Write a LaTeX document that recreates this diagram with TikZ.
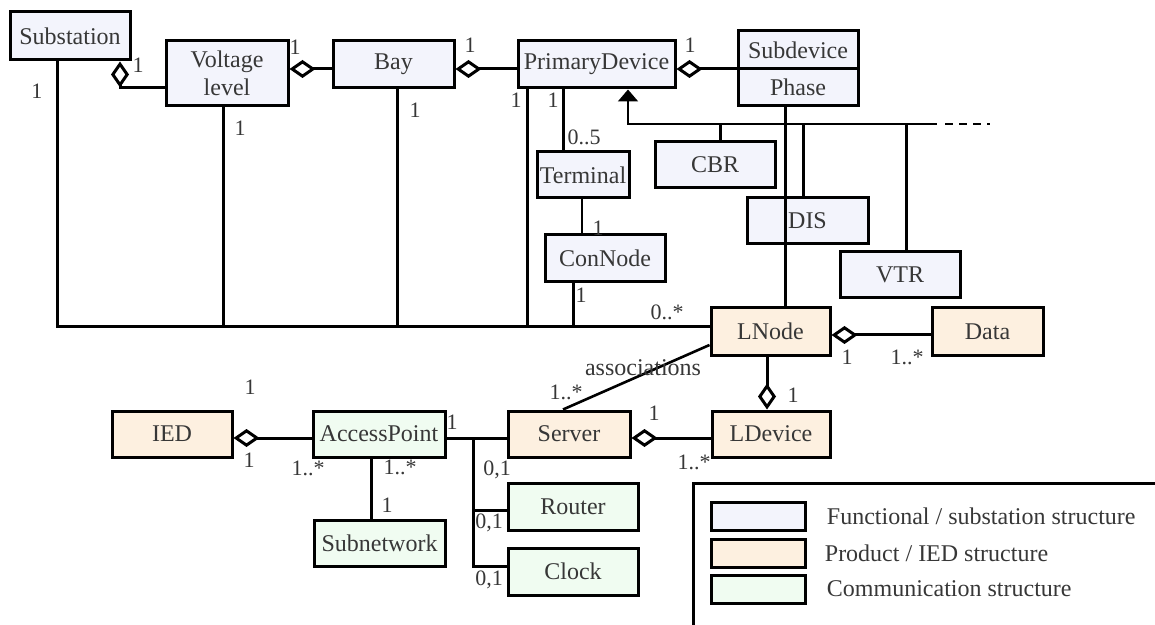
\documentclass[tikz,border=0pt]{standalone}
\usepackage{fontspec}
\setmainfont{Liberation Serif}
\usetikzlibrary{arrows.meta}
\definecolor{func}{RGB}{243,244,252}
\definecolor{prod}{RGB}{253,240,224}
\definecolor{comm}{RGB}{240,252,241}
\definecolor{txt}{RGB}{55,55,55}
\begin{document}
\begin{tikzpicture}[x=0.5pt,y=-0.5pt,
  box/.style={draw=black,line width=1.5pt,inner sep=0pt,text=txt,font=\fontsize{12}{14}\selectfont,align=center},
  fbox/.style={box,fill=func},
  pbox/.style={box,fill=prod},
  cbox/.style={box,fill=comm},
  conn/.style={line width=1.5pt},
  thinconn/.style={line width=0.8pt},
  inhline/.style={line width=1pt},
  dia/.tip={Diamond[fill=white,length=13pt,width=9pt,line width=1.5pt]},
  aggd/.style={conn,{dia}-},
  agge/.style={conn,-{dia}},
  lab/.style={text=txt,font=\fontsize{11}{12}\selectfont,inner sep=0pt},
  legtext/.style={anchor=west,text=txt,font=\fontsize{12}{14}\selectfont,inner sep=0pt}]
\useasboundingbox (0,0) rectangle (1155,625);

% ---------- nodes ----------
\node[fbox,minimum width=60pt,minimum height=24pt] (sub) at (70,36) {Substation};
\node[fbox,minimum width=61pt,minimum height=32.5pt] (vl) at (227,73.5) {Voltage\\level};
\node[fbox,minimum width=60.5pt,minimum height=23.5pt] (bay) at (393.5,64.5) {Bay};
\node[fbox,minimum width=78.5pt,minimum height=23.5pt] (pd) at (596.5,64.5) {PrimaryDevice};
\node[fbox,minimum width=60pt,minimum height=37.5pt,font=\fontsize{12}{18.5}\selectfont] (sd) at (798,68.5) {Subdevice\\Phase};
\node[fbox,minimum width=46pt,minimum height=23pt] (term) at (583,175) {Terminal};
\node[fbox,minimum width=60pt,minimum height=23pt] (cbr) at (715,165) {CBR};
\node[fbox,minimum width=60.5pt,minimum height=23pt] (dis) at (807.5,221) {DIS};
\node[fbox,minimum width=60pt,minimum height=23pt] (vtr) at (900,275) {VTR};
\node[fbox,minimum width=60pt,minimum height=23.5pt] (cn) at (605,258.5) {ConNode};
\node[pbox,minimum width=59.5pt,minimum height=23.5pt] (ln) at (770.5,331.5) {LNode};
\node[pbox,minimum width=55.5pt,minimum height=23.5pt] (data) at (987.5,331.5) {Data};
\node[pbox,minimum width=59pt,minimum height=23pt] (ld) at (771,434) {LDevice};
\node[pbox,minimum width=61pt,minimum height=23pt] (srv) at (569,434) {Server};
\node[pbox,minimum width=60pt,minimum height=23pt] (ied) at (172,434) {IED};
\node[cbox,minimum width=66pt,minimum height=23pt] (ap) at (379,434) {AccessPoint};
\node[cbox,minimum width=65.5pt,minimum height=23pt] (snw) at (379.5,543) {Subnetwork};
\node[cbox,minimum width=65pt,minimum height=23.5pt] (rtr) at (573,506.5) {Router};
\node[cbox,minimum width=65pt,minimum height=23.5pt] (clk) at (573,571.5) {Clock};

% subdevice divider
\coordinate (dv) at (0,69);
\draw[line width=1.5pt] (sd.west |- dv) -- (sd.east |- dv);

% ---------- helper coordinates ----------
\coordinate (bsub) at (57,327);
\coordinate (bvl) at (223,327);
\coordinate (bbay) at (397,327);
\coordinate (bpd) at (527,327);
\coordinate (bcn) at (573,327);
\coordinate (c1) at (120,88);
\coordinate (c2) at (0,69);
\coordinate (xt) at (563,0);
\coordinate (xtc) at (582,0);
\coordinate (inh) at (628,124);
\coordinate (inhE) at (937,124);
\coordinate (inhD0) at (945,124);
\coordinate (inhD) at (990,124);
\coordinate (xcbr) at (720,124);
\coordinate (xdis) at (803,124);
\coordinate (xvtr) at (906,124);
\coordinate (xph) at (785,0);
\coordinate (c5) at (0,335);
\coordinate (xl) at (767,0);
\coordinate (a1) at (0,345);
\coordinate (a2) at (563,0);
\coordinate (c7) at (0,438);
\coordinate (xap) at (371,0);
\coordinate (br0) at (473,438);
\coordinate (br1) at (473,510);
\coordinate (br2) at (473,566);

% ---------- connectors ----------
\draw[conn] (sub.south -| bsub) -- (bsub) -- (ln.west |- bsub);
\draw[conn] (vl.south -| bvl) -- (bvl);
\draw[conn] (bay.south -| bbay) -- (bbay);
\draw[conn] (pd.south -| bpd) -- (bpd);
\draw[conn] (cn.south -| bcn) -- (bcn);

\draw[aggd] (sub.south -| c1) -- (c1) -- (vl.west |- c1);
\draw[aggd] (vl.east |- c2) -- (bay.west |- c2);
\draw[aggd] (bay.east |- c2) -- (pd.west |- c2);
\draw[aggd] (pd.east |- c2) -- (sd.west |- c2);

\draw[conn] (pd.south -| xt) -- (term.north -| xt);
\draw[thinconn] (term.south -| xtc) -- (cn.north -| xtc);

\draw[inhline,{Triangle[length=6pt,width=10pt]}-] (pd.south -| inh) -- (inh) -- (inhE);
\draw[inhline,dash pattern=on 4pt off 3pt] (inhD0) -- (inhD);
\draw[conn] (xcbr) -- (cbr.north -| xcbr);
\draw[conn] (xdis) -- (dis.north -| xdis);
\draw[conn] (xvtr) -- (vtr.north -| xvtr);
\draw[conn] (sd.south -| xph) -- (ln.north -| xph);

\draw[aggd] (ln.east |- c5) -- (data.west |- c5);
\draw[agge] (ln.south -| xl) -- (ld.north -| xl);
\draw[line width=1.3pt] (ln.west |- a1) -- (srv.north -| a2);
\draw[aggd] (srv.east |- c7) -- (ld.west |- c7);
\draw[aggd] (ied.east |- c7) -- (ap.west |- c7);
\draw[conn] (ap.east |- c7) -- (srv.west |- c7);
\draw[conn] (ap.south -| xap) -- (snw.north -| xap);
\draw[conn] (br0) -- (br2) -- (clk.west |- br2);
\draw[conn] (br1) -- (rtr.west |- br1);

% ---------- labels ----------
\node[lab] at (138,65) {1};
\node[lab] at (37,91) {1};
\node[lab] at (295,47) {1};
\node[lab] at (240,128) {1};
\node[lab] at (470,45) {1};
\node[lab] at (415,110) {1};
\node[lab] at (516,100) {1};
\node[lab] at (553,100) {1};
\node[lab] at (584,137) {0..5};
\node[lab] at (690,45) {1};
\node[lab] at (598,228) {1};
\node[lab] at (581,295) {1};
\node[lab] at (667,312) {0..*};
\node[lab,font=\fontsize{12}{13}\selectfont] at (643,368) {associations};
\node[lab] at (566,392) {1..*};
\node[lab] at (847,357) {1};
\node[lab] at (907,357) {1..*};
\node[lab] at (793,395) {1};
\node[lab] at (654,413) {1};
\node[lab] at (694,462) {1..*};
\node[lab] at (250,387) {1};
\node[lab] at (249,460) {1};
\node[lab] at (308,468) {1..*};
\node[lab] at (400,467) {1..*};
\node[lab] at (387,505) {1};
\node[lab] at (452,422) {1};
\node[lab] at (497,470) {0,1};
\node[lab] at (489,523) {0,1};
\node[lab] at (489,580) {0,1};

% ---------- legend ----------
\coordinate (lgTR) at (1155,483);
\coordinate (lgTL) at (693,483);
\coordinate (lgBL) at (693,625);
\draw[conn] (lgTR) -- (lgTL) -- (lgBL);
\node[fbox,minimum width=47pt,minimum height=14pt] (lg1) at (758,516) {};
\node[pbox,minimum width=47pt,minimum height=14pt] (lg2) at (758,553) {};
\node[cbox,minimum width=47pt,minimum height=14pt] (lg3) at (758,589) {};
\node[legtext] at ([xshift=10pt]lg1.east) {Functional / substation structure};
\node[legtext] at ([xshift=9pt]lg2.east) {Product / IED structure};
\node[legtext] at ([xshift=10pt]lg3.east) {Communication structure};
\end{tikzpicture}
\end{document}
